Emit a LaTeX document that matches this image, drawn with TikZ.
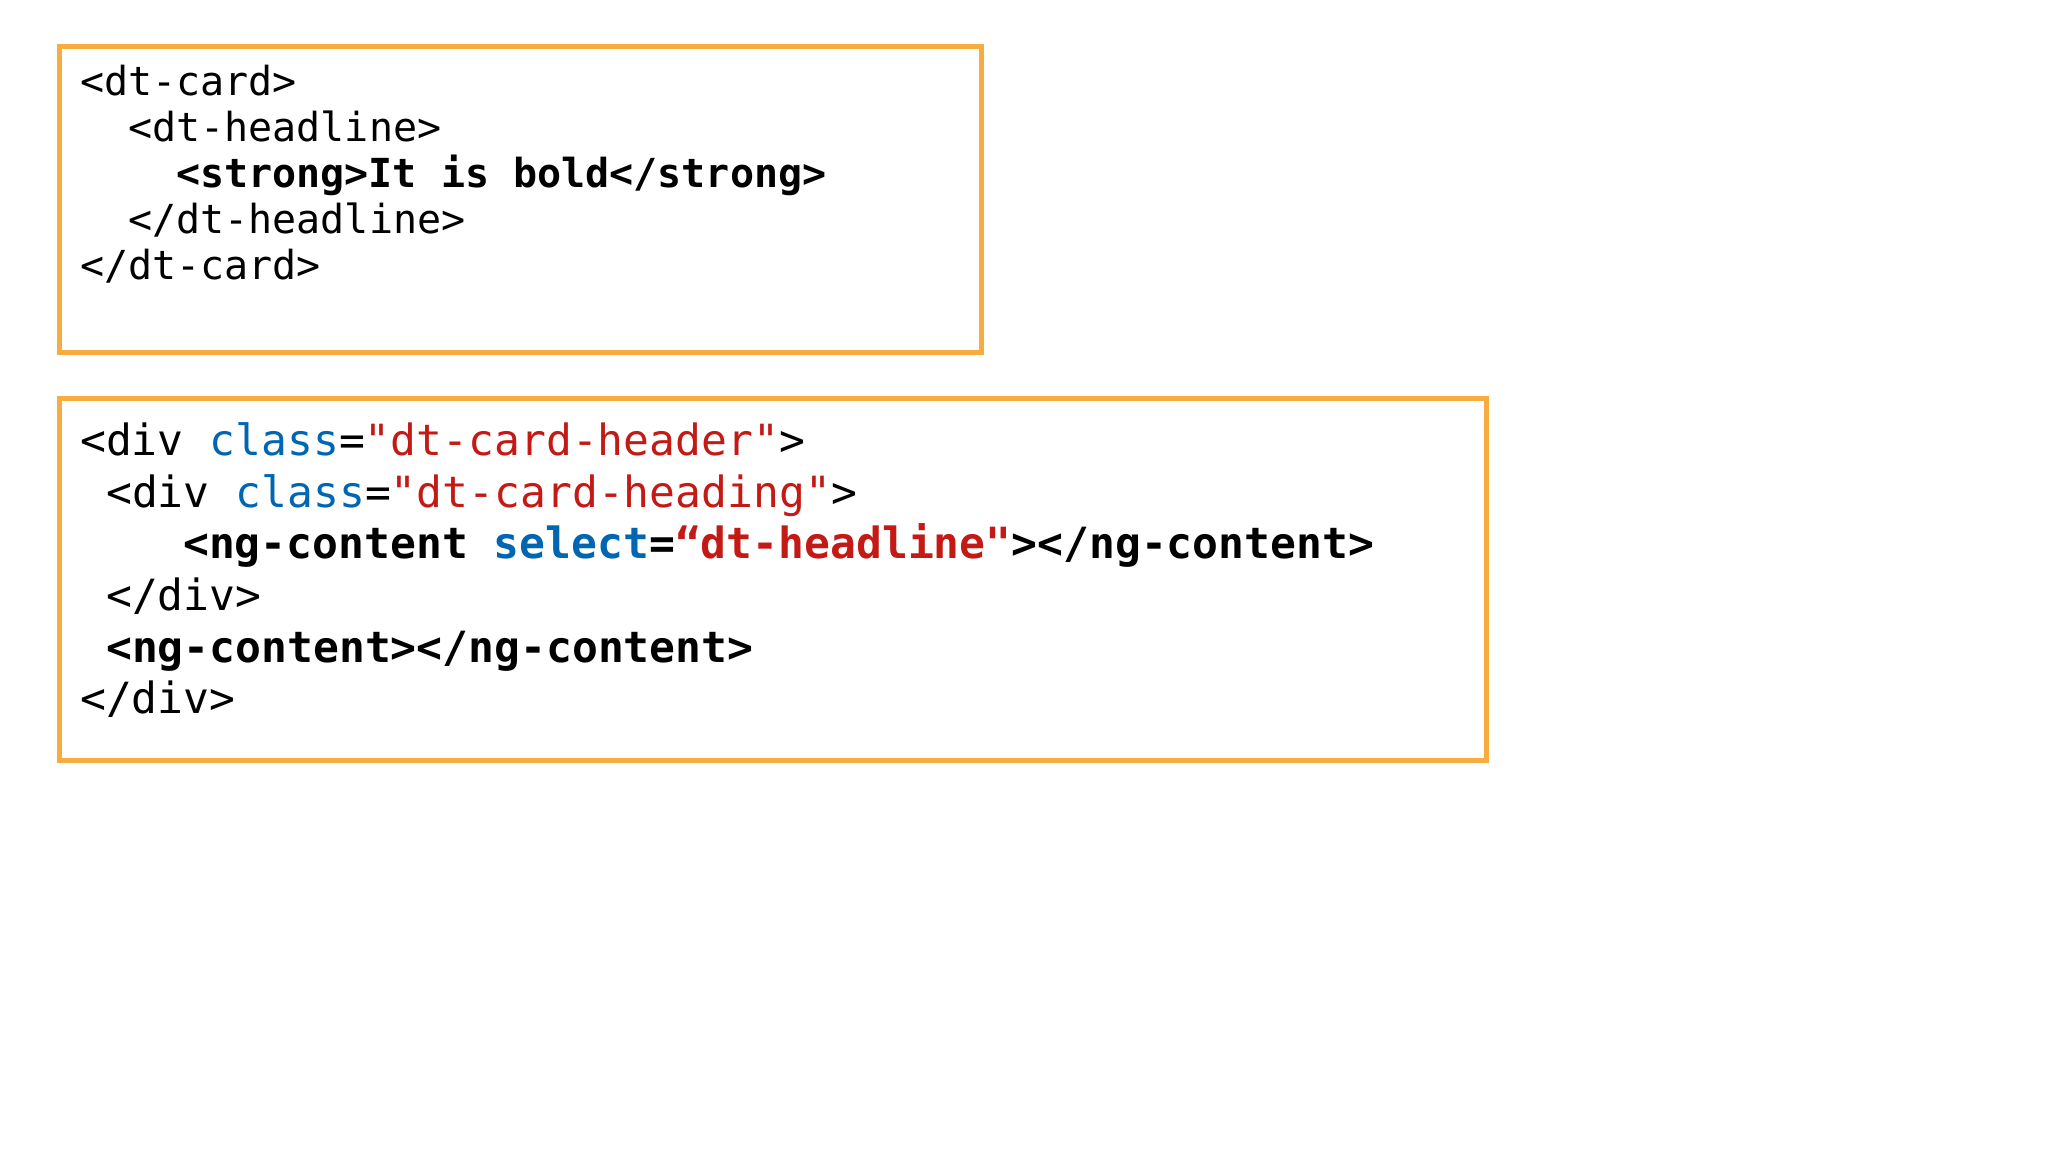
\documentclass[tikz,border=0pt]{standalone}
\usepackage{fontspec}
\setmonofont{DejaVu Sans Mono}
\definecolor{bord}{RGB}{247,172,64}
\definecolor{kw}{RGB}{0,102,178}
\definecolor{st}{RGB}{196,26,22}
\begin{document}
\begin{tikzpicture}[x=1pt,y=-1pt,
  boxs/.style={draw=bord,line width=5pt},
  la/.style={anchor=base west,inner sep=0pt,font=\ttfamily\fontsize{40}{40}\selectfont},
  lb/.style={anchor=base west,inner sep=0pt,font=\ttfamily\fontsize{43}{43}\selectfont}]
\useasboundingbox (0,0) rectangle (2048,1152);
\draw[boxs] (59,46) rectangle (981,352);
\draw[boxs] (59,398) rectangle (1486,760);
\node[la] (a1) at (80,95) {<dt-card>};
\node[la] (a2) at (128,141) {<dt-headline>};
\node[la] (a3) at (176,187) {\bfseries <strong>It is bold</strong>};
\node[la] (a4) at (128,233) {</dt-headline>};
\node[la] (a5) at (80,279) {</dt-card>};
\node[lb] (b1) at (80,455) {<div \textcolor{kw}{class}=\textcolor{st}{"dt-card-header"}>};
\node[lb] (b2) at (106,507) {<div \textcolor{kw}{class}=\textcolor{st}{"dt-card-heading"}>};
\node[lb] (b3) at (183,558) {\bfseries <ng-content \textcolor{kw}{select}=\textcolor{st}{“dt-headline"}></ng-content>};
\node[lb] (b4) at (106,610) {</div>};
\node[lb] (b5) at (106,662) {\bfseries <ng-content></ng-content>};
\node[lb] (b6) at (80,713) {</div>};
\end{tikzpicture}
\end{document}
